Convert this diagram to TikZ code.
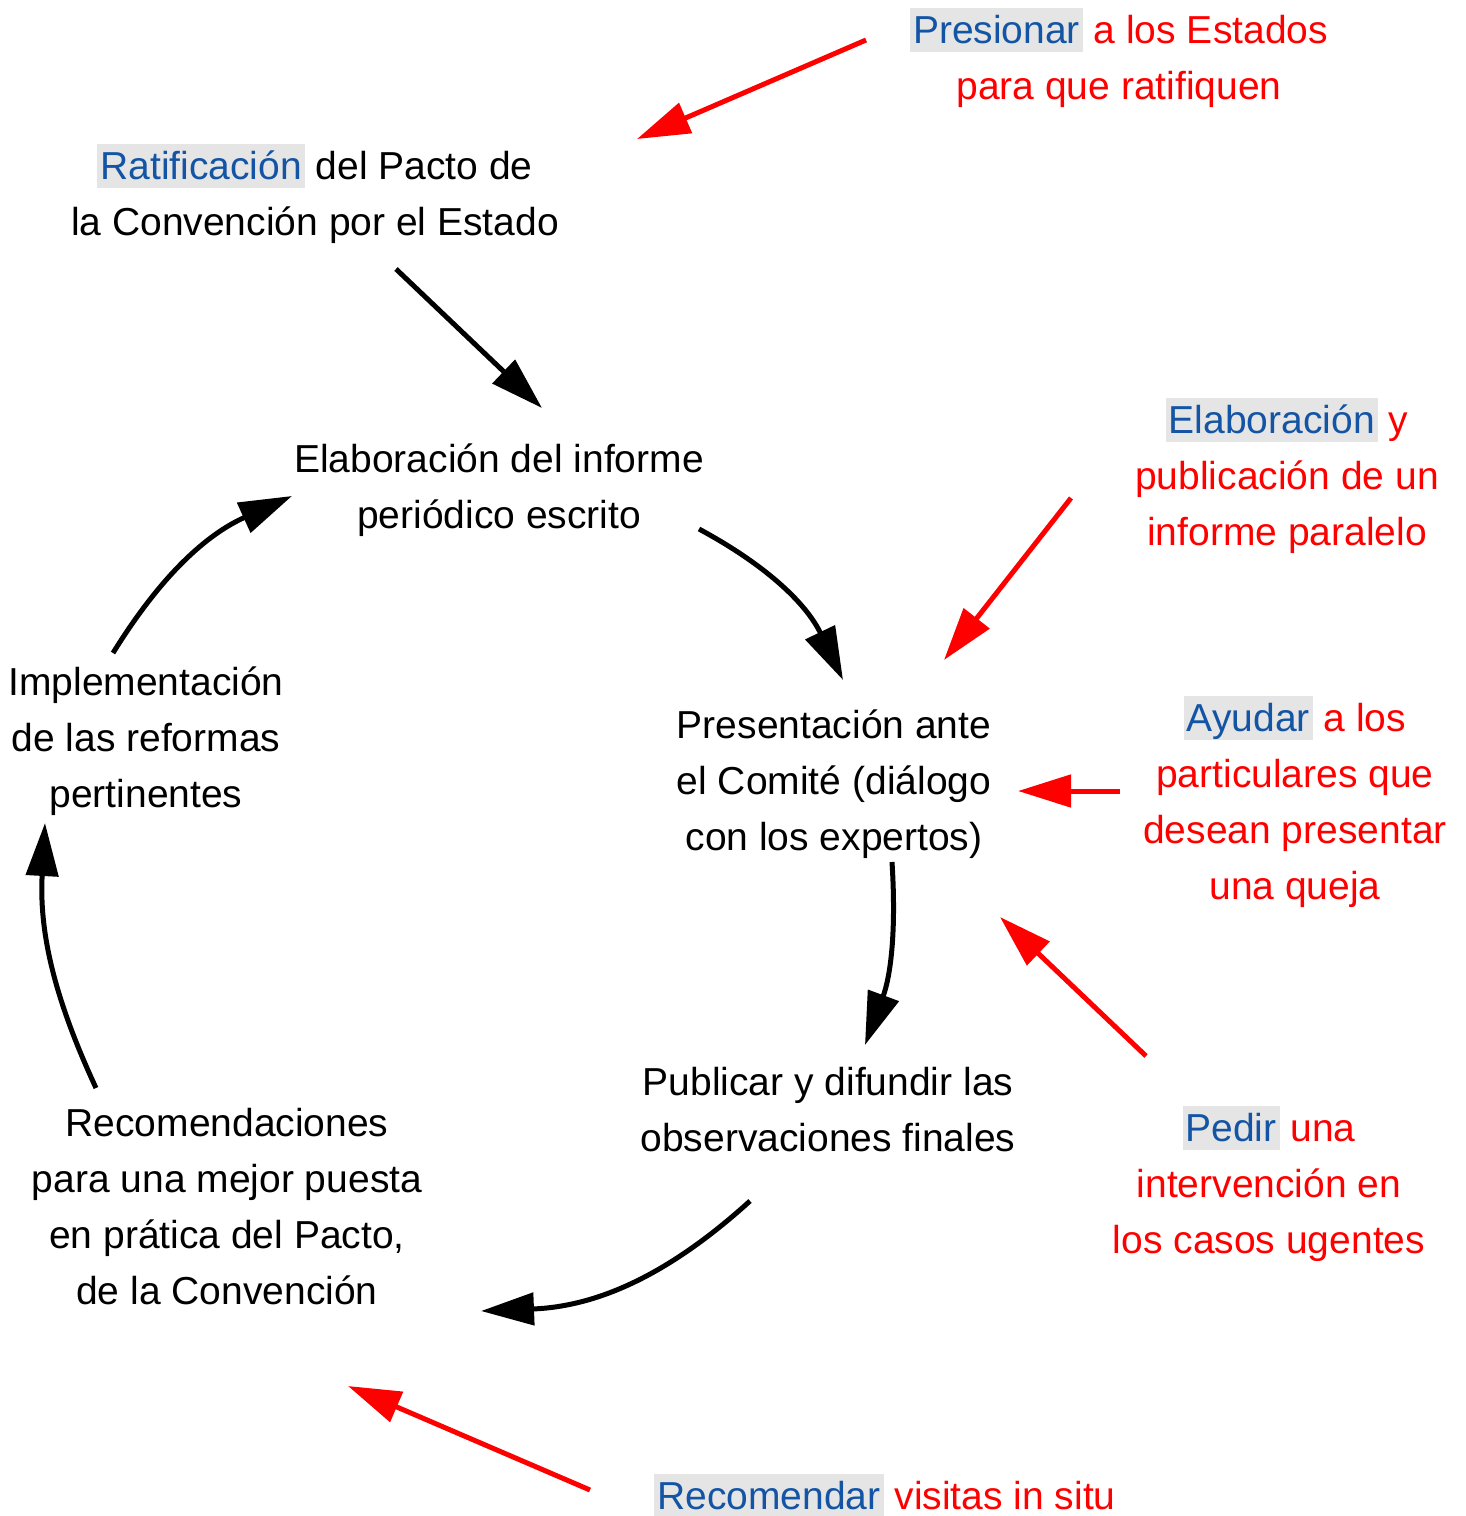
\documentclass[tikz,border=0pt]{standalone}
\usepackage{fontspec}
\setmainfont{Liberation Sans}
\usetikzlibrary{arrows.meta}
\definecolor{keyblue}{RGB}{20,84,164}
\definecolor{keygray}{RGB}{229,229,229}
\newcommand{\keyword}[1]{{\setlength{\fboxsep}{0pt}\colorbox{keygray}{\rule[-0.22em]{0pt}{1.14em}\kern3pt\textcolor{keyblue}{#1}\kern3pt}}}

\tikzset{
  stage/.style={align=center, font=\fontsize{39}{56}\selectfont, text=black, inner sep=0pt},
  action/.style={stage, text=red},
  cyclearrow/.style={line width=5pt, -{Triangle[length=53pt,width=32pt]}},
  helparrow/.style={cyclearrow, red},
}

\begin{document}
\begin{tikzpicture}[x=1pt,y=1pt]
\useasboundingbox (0,0) rectangle (1466,-1516);

% stages of the cycle
\node[stage] (rat)   at (315,-194)  {\keyword{Ratificación} del Pacto de\\la Convención por el Estado};
\node[stage] (elab)  at (499,-490)  {Elaboración del informe\\periódico escrito};
\node[stage] (pres)  at (834,-784)  {Presentación ante\\el Comité (diálogo\\con los expertos)};
\node[stage] (publ)  at (828,-1110) {Publicar y difundir las\\observaciones finales};
\node[stage] (recom) at (227,-1207) {Recomendaciones\\para una mejor puesta\\en prática del Pacto,\\de la Convención};
\node[stage] (impl)  at (146,-741)  {Implementación\\de las reformas\\pertinentes};

% actions
\node[action] (press) at (1119,-58)   {\keyword{Presionar} a los Estados\\para que ratifiquen};
\node[action] (paral) at (1287,-476)  {\keyword{Elaboración} y\\publicación de un\\informe paralelo};
\node[action] (ayud)  at (1295,-802)  {\keyword{Ayudar} a los\\particulares que\\desean presentar\\una queja};
\node[action] (pedir) at (1269,-1184) {\keyword{Pedir} una\\intervención en\\los casos ugentes};
\node[action] (visit) at (885,-1496)  {\keyword{Recomendar} visitas in situ};

% arrow ends
\coordinate (rat-out)   at (396,-269);
\coordinate (elab-in)   at (542,-408);
\coordinate (elab-out)  at (699,-529);
\coordinate (pres-in)   at (843,-680);
\coordinate (pres-out)  at (892,-862);
\coordinate (publ-in)   at (865,-1045);
\coordinate (publ-out)  at (750,-1201);
\coordinate (recom-in)  at (481,-1311);
\coordinate (recom-out) at (96,-1088);
\coordinate (impl-in)   at (45,-823);
\coordinate (impl-out)  at (113,-653);
\coordinate (elab-in2)  at (292,-496);

\coordinate (press-out) at (866,-40);
\coordinate (rat-in)    at (637,-139);
\coordinate (paral-out) at (1071,-498);
\coordinate (pres-in2)  at (944,-660);
\coordinate (ayud-out)  at (1120,-791);
\coordinate (pres-in3)  at (1018,-791);
\coordinate (pedir-out) at (1146,-1056);
\coordinate (pres-in4)  at (1000,-917);
\coordinate (visit-out) at (590,-1490);
\coordinate (recom-in2) at (348,-1386);

\draw[cyclearrow] (rat-out) -- (elab-in);
\draw[cyclearrow] (elab-out) to[bend left=18] (pres-in);
\draw[cyclearrow] (pres-out) to[bend left=12] (publ-in);
\draw[cyclearrow] (publ-out) to[bend left=20] (recom-in);
\draw[cyclearrow] (recom-out) to[bend left=14] (impl-in);
\draw[cyclearrow] (impl-out) to[bend left=17] (elab-in2);

\draw[helparrow] (press-out) -- (rat-in);
\draw[helparrow] (paral-out) -- (pres-in2);
\draw[helparrow] (ayud-out) -- (pres-in3);
\draw[helparrow] (pedir-out) -- (pres-in4);
\draw[helparrow] (visit-out) -- (recom-in2);
\end{tikzpicture}
\end{document}
